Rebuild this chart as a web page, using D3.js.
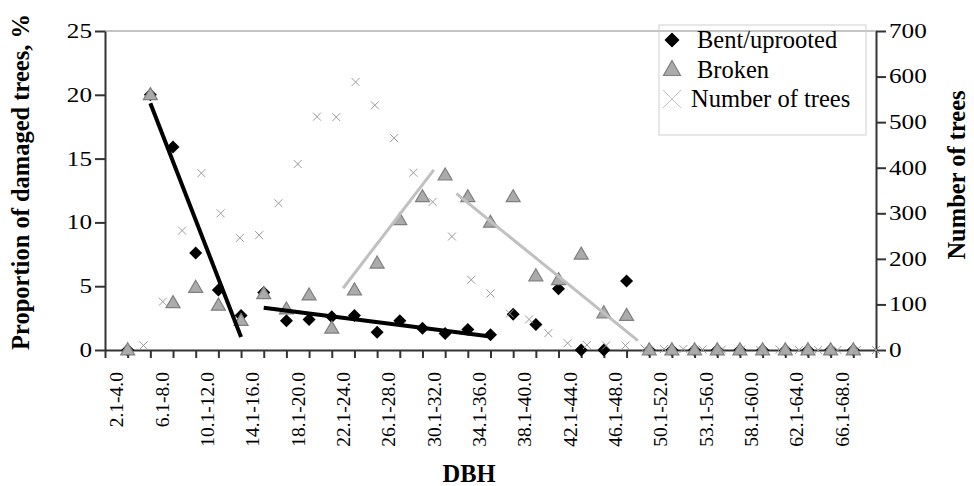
<!DOCTYPE html>
<html>
<head>
<meta charset="utf-8">
<script src="https://cdn.jsdelivr.net/npm/d3@7"></script>
<style>
  body { margin: 0; background: #fff; }
  svg text { font-family: "Liberation Serif", "Times New Roman", serif !important; fill: #000; }
</style>
</head>
<body>
<div id="chart"></div>
<script>
// DBH classes (cm), as labelled in the source figure
const dbhClasses = ["2.1-4.0", "4.1-6.0", "6.1-8.0", "8.1-10.0", "10.1-12.0", "12.1-14.0",
  "14.1-16.0", "16.1-18.0", "18.1-20.0", "20.1-22.0", "22.1-24.0", "24.1-26.0", "26.1-28.0",
  "28.1-30.0", "30.1-32.0", "32.1-34.0", "34.1-36.0", "36.1-38.0", "38.1-40.0", "40.1-42.0",
  "42.1-44.0", "44.1-46.0", "46.1-48.0", "48.1-50.0", "50.1-52.0", "52.1-54.0", "53.1-56.0",
  "56.1-58.0", "58.1-60.0", "60.1-62.0", "62.1-64.0", "64.1-66.0", "66.1-68.0"];

// proportion of damaged trees, %
const bentUprooted = [0, 20, 15.9, 7.6, 4.7, 2.7, 4.5, 2.3, 2.4, 2.6, 2.7, 1.4, 2.3, 1.7, 1.3,
  1.6, 1.2, 2.8, 2.0, 4.8, 0, 0, 5.4, 0, 0, 0, 0, 0, 0, 0, 0, 0, 0];
const broken = [0, 20, 3.7, 4.9, 3.5, 2.3, 4.4, 3.2, 4.3, 1.7, 4.7, 6.8, 10.2, 12.0, 13.7,
  12.0, 10.0, 12.0, 5.8, 5.5, 7.5, 2.9, 2.7, 0, 0, 0, 0, 0, 0, 0, 0, 0, 0];

// number of trees, plotted on its own (secondary) category axis of 41 positions
const treeCounts = [null, null, 10, 106, 262, 388, 300, 246, 252, 322, 408, 512, 511, 588,
  537, 465, 389, 325, 249, 154, 124, 80, 67, 37, 15, 11, 10, 10, 3, 2, 2, 1, 1, 1, 0, 1, 0,
  0, 0, 0, 0];

// linear trend lines: [first class index, last class index]
const bentTrends = [[1, 5], [6, 16]];
const brokenTrends = [[10, 14], [15, 23]];

const leftTicks = [0, 5, 10, 15, 20, 25];
const rightTicks = [0, 100, 200, 300, 400, 500, 600, 700];

//chart size
const width = 974;
const height = 486;
const plot = { left: 105, right: 876, top: 31, bottom: 350 };
const serif = '"Liberation Serif", "Times New Roman", serif';

const svg = d3.select("#chart")
  .append("svg")
  .attr("width", width)
  .attr("height", height);

//scales
const x = d3.scaleLinear()
  .domain([-1, dbhClasses.length])
  .range([plot.left, plot.right]);
const x2 = d3.scaleLinear()
  .domain([0, treeCounts.length - 1])
  .range([plot.left, plot.right]);
const yLeft = d3.scaleLinear().domain([0, 25]).range([plot.bottom, plot.top]);
const yRight = d3.scaleLinear().domain([0, 700]).range([plot.bottom, plot.top]);

// top border of plot area
svg.append("line")
  .attr("x1", plot.left).attr("x2", plot.right)
  .attr("y1", plot.top).attr("y2", plot.top)
  .attr("stroke", "#c4c4c4").attr("stroke-width", 2);

// left axis
const leftAxis = svg.append("g")
  .attr("transform", `translate(${plot.left},0)`)
  .call(d3.axisLeft(yLeft).tickValues(leftTicks).tickSize(10).tickSizeOuter(0).tickPadding(3));

// right axis
const rightAxis = svg.append("g")
  .attr("transform", `translate(${plot.right},0)`)
  .call(d3.axisRight(yRight).tickValues(rightTicks).tickSize(10).tickSizeOuter(0).tickPadding(3));

// x axis, tick marks at every class position
const xAxis = svg.append("g")
  .attr("transform", `translate(0,${plot.bottom})`)
  .call(d3.axisBottom(x).tickValues(d3.range(-1, dbhClasses.length + 1))
    .tickSize(8).tickSizeOuter(0).tickFormat(""));

[leftAxis, rightAxis, xAxis].forEach(g => {
  g.attr("font-family", serif);
  g.select(".domain").attr("stroke", "#333").attr("stroke-width", 2);
  g.selectAll(".tick line").attr("stroke", "#333").attr("stroke-width", 2);
});

// y tick labels are drawn a little wide in the source
const stretch = 1.26;
[[leftAxis, -13], [rightAxis, 13]].forEach(([g, off]) => {
  g.selectAll(".tick text")
    .style("font-size", "20px")
    .attr("fill", "#000")
    .attr("x", off / stretch)
    .attr("transform", `scale(${stretch},1)`);
});

// x tick labels (every other class), rotated
svg.append("g")
  .selectAll("text")
  .data(dbhClasses.map((d, i) => ({ label: d, i })).filter(d => d.i % 2 === 0))
  .enter().append("text")
  .attr("transform", d => `translate(${x(d.i - 0.5)},372) rotate(-90)`)
  .attr("text-anchor", "end")
  .attr("dy", "0.35em")
  .style("font-family", serif)
  .style("font-size", "19.5px")
  .text(d => d.label);

// markers
const diamond = s => `M0,${-s}L${s},0L0,${s}L${-s},0Z`;
const triangle = (w, h) => `M0,${-h * 0.6}L${w / 2},${h * 0.4}L${-w / 2},${h * 0.4}Z`;
const cross = s => `M${-s},${-s}L${s},${s}M${-s},${s}L${s},${-s}`;

svg.append("g")
  .selectAll("path")
  .data(bentUprooted)
  .enter().append("path")
  .attr("d", diamond(6.5))
  .attr("transform", (d, i) => `translate(${x(i)},${yLeft(d)})`)
  .attr("fill", "#000");

svg.append("g")
  .selectAll("path")
  .data(broken)
  .enter().append("path")
  .attr("d", triangle(14, 12))
  .attr("transform", (d, i) => `translate(${x(i)},${yLeft(d)})`)
  .attr("fill", "#ababab")
  .attr("stroke", "#7f7f7f")
  .attr("stroke-width", 1.2);

svg.append("g")
  .selectAll("path")
  .data(treeCounts.map((d, k) => ({ d, k })).filter(p => p.d !== null))
  .enter().append("path")
  .attr("d", cross(4))
  .attr("transform", p => `translate(${x2(p.k)},${yRight(p.d)})`)
  .attr("fill", "none")
  .attr("stroke", "#9a9a9a")
  .attr("stroke-width", 1);

// least squares fit over a range of classes
function fit(values, from, to) {
  const xs = d3.range(from, to + 1);
  const ys = xs.map(i => values[i]);
  const mx = d3.mean(xs), my = d3.mean(ys);
  const slope = d3.sum(xs, (v, j) => (v - mx) * (ys[j] - my)) / d3.sum(xs, v => (v - mx) ** 2);
  return v => my + slope * (v - mx);
}

bentTrends.forEach(([a, b]) => {
  const f = fit(bentUprooted, a, b);
  svg.append("line")
    .attr("x1", x(a)).attr("y1", yLeft(f(a)))
    .attr("x2", x(b)).attr("y2", yLeft(f(b)))
    .attr("stroke", "#000").attr("stroke-width", 4);
});

brokenTrends.forEach(([a, b]) => {
  const f = fit(broken, a, b);
  svg.append("line")
    .attr("x1", x(a - 0.5)).attr("y1", yLeft(f(a)))
    .attr("x2", x(b - 0.5)).attr("y2", yLeft(f(b)))
    .attr("stroke", "#c0c0c0").attr("stroke-width", 3);
});

// axis titles
svg.append("text")
  .attr("transform", "translate(29,182) rotate(-90)")
  .attr("text-anchor", "middle")
  .style("font-family", serif)
  .style("font-size", "24.5px").style("font-weight", "bold")
  .text("Proportion of damaged trees, %");

svg.append("text")
  .attr("transform", "translate(965,175) rotate(-90)")
  .attr("text-anchor", "middle")
  .style("font-family", serif)
  .style("font-size", "24.5px").style("font-weight", "bold")
  .text("Number of trees");

svg.append("text")
  .attr("x", 469).attr("y", 482)
  .attr("text-anchor", "middle")
  .style("font-family", serif)
  .style("font-size", "24.5px").style("font-weight", "bold")
  .text("DBH");

// legend
const legend = svg.append("g").attr("transform", "translate(659,25)");
legend.append("rect")
  .attr("width", 207).attr("height", 110)
  .attr("fill", "none").attr("stroke", "#d0d0d0").attr("stroke-width", 1);

const legendItems = ["Bent/uprooted", "Broken", "Number of trees"];
legendItems.forEach((name, i) => {
  const row = legend.append("g").attr("transform", `translate(13,${15 + i * 29.5})`);
  if (i === 0) row.append("path").attr("d", diamond(7.5)).attr("fill", "#000");
  if (i === 1) row.append("path").attr("d", triangle(17, 15))
    .attr("fill", "#ababab").attr("stroke", "#7f7f7f").attr("stroke-width", 1.2);
  if (i === 2) row.append("path").attr("d", cross(9))
    .attr("fill", "none").attr("stroke", "#c0c0c0").attr("stroke-width", 1);
  row.append("text")
    .attr("x", i === 2 ? 19 : 25).attr("y", 0)
    .attr("dy", "0.33em")
    .style("font-family", serif)
    .style("font-size", "24.5px")
    .text(name);
});
</script>
</body>
</html>
